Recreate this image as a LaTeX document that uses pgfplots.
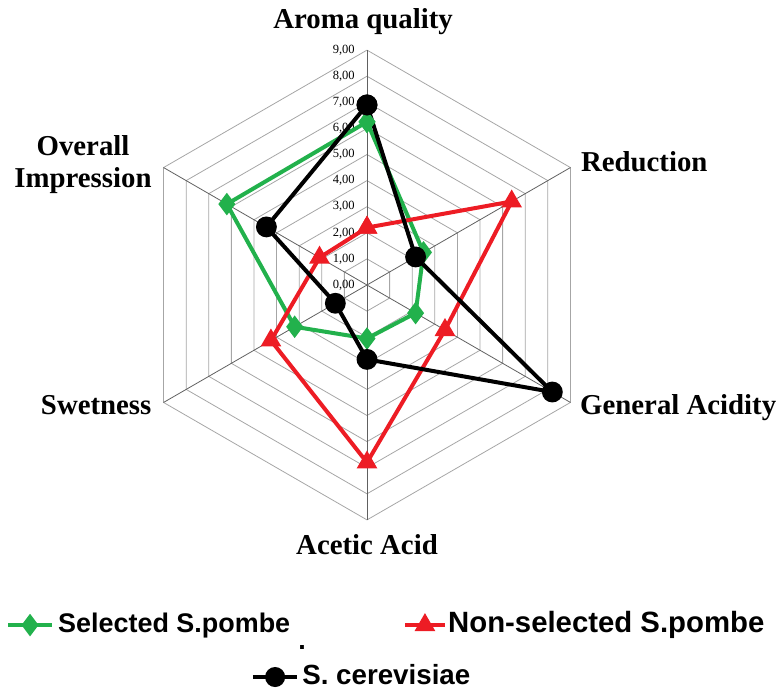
\documentclass[border=0pt]{standalone}
\usepackage{fontspec}
\setmainfont{Liberation Serif}
\newfontfamily\legfont{Liberation Sans}
\usepackage{pgfplots}
\pgfplotsset{compat=1.18}
\definecolor{sgreen}{HTML}{22B14C}
\definecolor{sred}{HTML}{ED1C24}
\definecolor{ringgray}{HTML}{A6A6A6}
\definecolor{spokegray}{HTML}{606060}
\begin{document}
\begin{tikzpicture}
\begin{axis}[
  scale only axis,
  width=585pt, height=516.75pt,
  xmin=-14.061, xmax=15.824,
  ymin=-15.479, ymax=10.920,
  hide axis, clip=false,
]
\path (rel axis cs:0,0) rectangle (rel axis cs:1,1);
% hexagon rings
\pgfplotsinvokeforeach{1,...,9}{
  \addplot[data cs=polar, draw=ringgray, line width=0.6pt, forget plot, mark=none]
    coordinates {(90,#1) (30,#1) (-30,#1) (-90,#1) (-150,#1) (150,#1) (90,#1)};
}
% spokes
\pgfplotsinvokeforeach{90,30,-30,-90,-150,150}{
  \addplot[data cs=polar, draw=spokegray, line width=0.6pt, forget plot, mark=none]
    coordinates {(#1,0) (#1,9)};
}
% tick labels
\pgfplotsinvokeforeach{0,...,9}{
  \node[anchor=east, inner sep=0pt, font=\fontsize{9.4}{11}\selectfont] at (axis cs:-0.46,#1) {#1,00};
}
% Selected S.pombe
\addplot[data cs=polar, color=sgreen, line width=3pt, mark=diamond*, mark size=6pt, mark options={solid}]
  coordinates {(90,6.25) (30,2.5) (-30,2.15) (-90,2.05) (-150,3.2) (150,6.2) (90,6.25)};
% Non-selected S.pombe
\addplot[data cs=polar, color=sred, line width=3pt, mark=triangle*, mark size=6pt, mark options={solid}]
  coordinates {(90,2.2) (30,6.4) (-30,3.45) (-90,6.8) (-150,4.25) (150,2.1) (90,2.2)};
% S. cerevisiae
\addplot[data cs=polar, color=black, line width=3pt, mark=*, mark size=6.3pt, mark options={solid}]
  coordinates {(90,6.9) (30,2.15) (-30,8.2) (-90,2.85) (-150,1.4) (150,4.45) (90,6.9)};
% category labels
\tikzset{catlab/.style={inner sep=0pt, font=\fontsize{21.6}{26}\selectfont\bfseries}}
\node[catlab, anchor=base] at (axis cs:-0.15,9.84) {Aroma quality};
\node[catlab, anchor=base west] at (axis cs:8.19,4.34) {Reduction};
\node[catlab, anchor=base west] at (axis cs:8.16,-4.98) {General Acidity};
\node[catlab, anchor=base] at (axis cs:0,-10.34) {Acetic Acid};
\node[catlab, anchor=base east] at (axis cs:-8.25,-4.98) {Swetness};
\node[catlab, anchor=base] at (axis cs:-10.88,4.98) {Overall};
\node[catlab, anchor=base] at (axis cs:-10.88,3.72) {Impression};
% legend
\addplot[color=sgreen, line width=3pt, mark=diamond*, mark size=6pt, mark indices={2}, forget plot]
  coordinates {(-13.75,-13.03) (-12.91,-13.03) (-12.07,-13.03)};
\addplot[color=sred, line width=3pt, mark=triangle*, mark size=6pt, mark indices={2}, forget plot]
  coordinates {(1.46,-13.03) (2.22,-13.03) (2.99,-13.03)};
\addplot[color=black, line width=3pt, mark=*, mark size=6pt, mark indices={2}, forget plot]
  coordinates {(-4.37,-15.02) (-3.52,-15.02) (-2.68,-15.02)};
\tikzset{leglab/.style={inner sep=0pt, font=\legfont\fontsize{20.2}{24}\selectfont\bfseries}}
\node[leglab, anchor=base west] at (axis cs:-11.84,-13.30) {Selected S.pombe};
\node[leglab, anchor=base west, font=\legfont\fontsize{22}{26}\selectfont\bfseries] at (axis cs:3.10,-13.30) {Non-selected S.pombe};
\node[leglab, anchor=base west, font=\legfont\fontsize{20.8}{24}\selectfont\bfseries] at (axis cs:-2.49,-15.29) {S. cerevisiae};
\node[leglab, anchor=base] at (axis cs:-2.49,-13.95) {.};
\end{axis}
\end{tikzpicture}
\end{document}
